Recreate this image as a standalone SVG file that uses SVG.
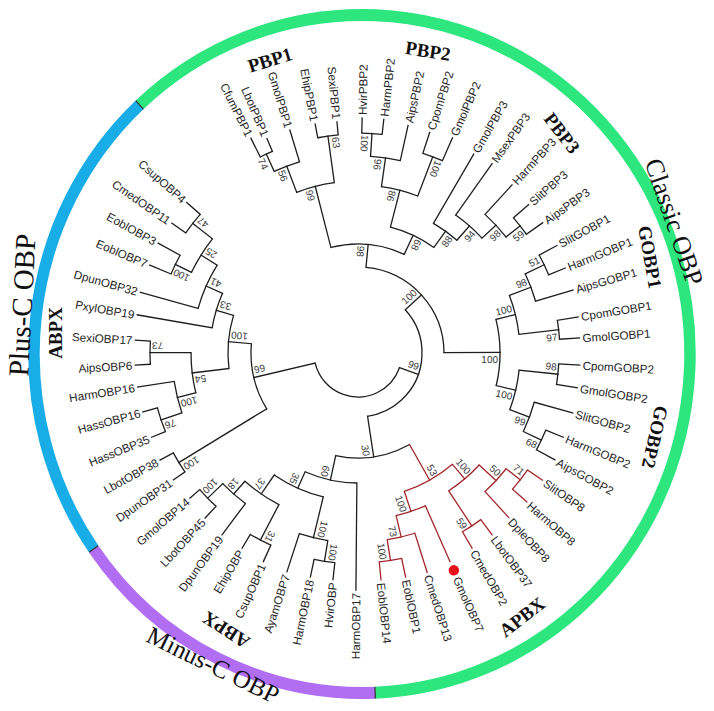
<svg xmlns="http://www.w3.org/2000/svg" width="714" height="711" viewBox="0 0 714 711">
<style>
.br{fill:none;stroke:#1e1e1e;stroke-width:1.3}
line.br{stroke-linecap:square}
.rd{stroke:#a3262a}
.lf{font-family:"Liberation Sans",Arial,sans-serif;font-size:11.7px;fill:#262626;dominant-baseline:central}
.bs{font-family:"Liberation Sans",Arial,sans-serif;font-size:10px;fill:#3a3a3a;dominant-baseline:central}
.e{text-anchor:end}
.cl{font-family:"Liberation Serif","Times New Roman",serif;font-weight:bold;font-size:19px;fill:#111;text-anchor:middle;dominant-baseline:central}
.big{font-family:"Liberation Serif","Times New Roman",serif;font-size:26px;fill:#111;text-anchor:middle;dominant-baseline:central}
.ring{fill:none;stroke-width:11.5}
.sep{stroke:#333;stroke-width:1.2}
</style>
<rect width="714" height="711" fill="#fff"/>
<g id="ring" transform="translate(362,354) scale(1,1.0335)">
<circle class="ring" r="328" stroke="#2ee67e" stroke-dasharray="1261.73 3000" transform="rotate(-132.7)"/>
<circle class="ring" r="328" stroke="#b26ef2" stroke-dasharray="327.45 3000" transform="rotate(87.7)"/>
<circle class="ring" r="328" stroke="#19ade8" stroke-dasharray="471.72 3000" transform="rotate(144.9)"/>
<line class="sep" x1="322.5" x2="333.5" transform="rotate(87.7)"/>
<line class="sep" x1="322.5" x2="333.5" transform="rotate(144.9)"/>
<line class="sep" x1="322.5" x2="333.5" transform="rotate(-132.7)"/>
</g>
<g id="tree" transform="translate(358,353)">
<g id="connectors">
<circle class="br" r="44" stroke-dasharray="113.09 3000" transform="rotate(19.5)"/>
<circle class="br" r="64" stroke-dasharray="138.33 3000" transform="rotate(-42.44)"/>
<circle class="br" r="107" stroke-dasharray="68.02 3000" transform="rotate(148.55)"/>
<circle class="br" r="86" stroke-dasharray="126.74 3000" transform="rotate(-84.66)"/>
<circle class="br" r="105" stroke-dasharray="76.33 3000" transform="rotate(60.6)"/>
<circle class="br" r="109" stroke-dasharray="75.09 3000" transform="rotate(-104.39)"/>
<circle class="br" r="142" stroke-dasharray="66.88 3000" transform="rotate(-13.71)"/>
<circle class="br" r="172" stroke-dasharray="38.95 3000" transform="rotate(-110.875)"/>
<circle class="br" r="130" stroke-dasharray="48.29 3000" transform="rotate(-75.56)"/>
<circle class="br" r="200" stroke-dasharray="27.05 3000" transform="rotate(-114.75)"/>
<circle class="br" r="219" stroke-dasharray="13.38 3000" transform="rotate(-116.5)"/>
<circle class="br" r="219" stroke-dasharray="20.64 3000" transform="rotate(-100.6)"/>
<circle class="br" r="168" stroke-dasharray="37.6 3000" transform="rotate(-81.975)"/>
<circle class="br" r="197" stroke-dasharray="30.09 3000" transform="rotate(-86.35)"/>
<circle class="br" r="220" stroke-dasharray="20.35 3000" transform="rotate(-89)"/>
<circle class="br" r="210" stroke-dasharray="20.89 3000" transform="rotate(-72)"/>
<circle class="br" r="150" stroke-dasharray="28.93 3000" transform="rotate(-59.8)"/>
<circle class="br" r="169" stroke-dasharray="35.1 3000" transform="rotate(-54.7)"/>
<circle class="br" r="188" stroke-dasharray="30.84 3000" transform="rotate(-47.5)"/>
<circle class="br" r="206" stroke-dasharray="20.85 3000" transform="rotate(-41)"/>
<circle class="br" r="162" stroke-dasharray="40.22 3000" transform="rotate(-20.825)"/>
<circle class="br" r="185" stroke-dasharray="29.22 3000" transform="rotate(-25.35)"/>
<circle class="br" r="206" stroke-dasharray="21.93 3000" transform="rotate(-28.4)"/>
<circle class="br" r="202" stroke-dasharray="19.04 3000" transform="rotate(-9.3)"/>
<circle class="br" r="162" stroke-dasharray="40.86 3000" transform="rotate(6.05)"/>
<circle class="br" r="201" stroke-dasharray="20.7 3000" transform="rotate(3.1)"/>
<circle class="br" r="183" stroke-dasharray="31.3 3000" transform="rotate(15.6)"/>
<circle class="br" r="203" stroke-dasharray="21.97 3000" transform="rotate(22.3)"/>
<circle class="br" r="130" stroke-dasharray="53.32 3000" transform="rotate(90.5)"/>
<circle class="br" r="148" stroke-dasharray="53.99 3000" transform="rotate(103.575)"/>
<circle class="br" r="190" stroke-dasharray="29.35 3000" transform="rotate(99.15)"/>
<circle class="br" r="211" stroke-dasharray="20.99 3000" transform="rotate(96.3)"/>
<circle class="br" r="171" stroke-dasharray="41.34 3000" transform="rotate(117.55)"/>
<circle class="br" r="211" stroke-dasharray="23.2 3000" transform="rotate(114.4)"/>
<circle class="br" r="188" stroke-dasharray="30.19 3000" transform="rotate(126.8)"/>
<circle class="br" r="209" stroke-dasharray="23.35 3000" transform="rotate(132.8)"/>
<circle class="br" r="210" stroke-dasharray="22.36 3000" transform="rotate(145.5)"/>
<circle class="br" r="130" stroke-dasharray="53.66 3000" transform="rotate(173.15)"/>
<circle class="br" r="167" stroke-dasharray="40.51 3000" transform="rotate(166.2)"/>
<circle class="br" r="186" stroke-dasharray="32.3 3000" transform="rotate(161.25)"/>
<circle class="br" r="208" stroke-dasharray="25.05 3000" transform="rotate(157.8)"/>
<circle class="br" r="208" stroke-dasharray="23.23 3000" transform="rotate(176.9)"/>
<circle class="br" r="148" stroke-dasharray="36.14 3000" transform="rotate(189.8)"/>
<circle class="br" r="166" stroke-dasharray="47.44 3000" transform="rotate(195.6)"/>
<circle class="br" r="185" stroke-dasharray="39.55 3000" transform="rotate(205.85)"/>
<circle class="br" r="203" stroke-dasharray="20.9 3000" transform="rotate(202.9)"/>
<circle class="br" r="210" stroke-dasharray="23.46 3000" transform="rotate(214.9)"/>
<line class="br" x1="44" x2="64" transform="rotate(19.5)"/>
<line class="br" x1="44" x2="107" transform="rotate(166.76)"/>
<line class="br" x1="64" x2="86" transform="rotate(-42.44)"/>
<line class="br" x1="64" x2="105" transform="rotate(81.4)"/>
<line class="br" x1="86" x2="109" transform="rotate(-84.66)"/>
<line class="br" x1="86" x2="142" transform="rotate(-0.22)"/>
<line class="br" x1="109" x2="172" transform="rotate(-104.39)"/>
<line class="br" x1="109" x2="130" transform="rotate(-64.92)"/>
<line class="br" x1="172" x2="200" transform="rotate(-110.875)"/>
<line class="br" x1="200" x2="219" transform="rotate(-114.75)"/>
<line class="br" x1="172" x2="219" transform="rotate(-97.9)"/>
<line class="br" x1="130" x2="168" transform="rotate(-75.56)"/>
<line class="br" x1="168" x2="197" transform="rotate(-81.975)"/>
<line class="br" x1="197" x2="220" transform="rotate(-86.35)"/>
<line class="br" x1="168" x2="210" transform="rotate(-69.15)"/>
<line class="br" x1="130" x2="150" transform="rotate(-54.275)"/>
<line class="br" x1="150" x2="169" transform="rotate(-48.75)"/>
<line class="br" x1="169" x2="188" transform="rotate(-42.8)"/>
<line class="br" x1="188" x2="206" transform="rotate(-38.1)"/>
<line class="br" x1="142" x2="162" transform="rotate(-13.71)"/>
<line class="br" x1="162" x2="185" transform="rotate(-20.825)"/>
<line class="br" x1="185" x2="206" transform="rotate(-25.35)"/>
<line class="br" x1="162" x2="202" transform="rotate(-6.6)"/>
<line class="br" x1="142" x2="162" transform="rotate(13.275)"/>
<line class="br" x1="162" x2="201" transform="rotate(6.05)"/>
<line class="br" x1="162" x2="183" transform="rotate(20.5)"/>
<line class="br" x1="183" x2="203" transform="rotate(25.4)"/>
<line class="br" x1="105" x2="130" transform="rotate(102.25)"/>
<line class="br" x1="130" x2="148" transform="rotate(114)"/>
<line class="br" x1="148" x2="190" transform="rotate(103.575)"/>
<line class="br" x1="190" x2="211" transform="rotate(99.15)"/>
<line class="br" x1="148" x2="171" transform="rotate(124.475)"/>
<line class="br" x1="171" x2="211" transform="rotate(117.55)"/>
<line class="br" x1="171" x2="188" transform="rotate(131.4)"/>
<line class="br" x1="188" x2="209" transform="rotate(136)"/>
<line class="br" x1="107" x2="210" transform="rotate(148.55)"/>
<line class="br" x1="107" x2="130" transform="rotate(184.975)"/>
<line class="br" x1="130" x2="167" transform="rotate(173.15)"/>
<line class="br" x1="167" x2="186" transform="rotate(166.2)"/>
<line class="br" x1="186" x2="208" transform="rotate(161.25)"/>
<line class="br" x1="167" x2="208" transform="rotate(180.1)"/>
<line class="br" x1="130" x2="148" transform="rotate(196.8)"/>
<line class="br" x1="148" x2="166" transform="rotate(203.79)"/>
<line class="br" x1="166" x2="185" transform="rotate(211.975)"/>
<line class="br" x1="185" x2="203" transform="rotate(205.85)"/>
<line class="br" x1="185" x2="210" transform="rotate(218.1)"/>
<line class="br" x1="219" x2="240" transform="rotate(-116.5)"/>
<line class="br" x1="219" x2="233" transform="rotate(-113)"/>
<line class="br" x1="200" x2="233" transform="rotate(-107)"/>
<line class="br" x1="219" x2="233" transform="rotate(-100.6)"/>
<line class="br" x1="219" x2="232" transform="rotate(-95.2)"/>
<line class="br" x1="220" x2="235" transform="rotate(-89)"/>
<line class="br" x1="220" x2="235" transform="rotate(-83.7)"/>
<line class="br" x1="197" x2="233" transform="rotate(-77.6)"/>
<line class="br" x1="210" x2="232" transform="rotate(-72)"/>
<line class="br" x1="210" x2="235" transform="rotate(-66.3)"/>
<line class="br" x1="150" x2="230" transform="rotate(-59.8)"/>
<line class="br" x1="169" x2="232" transform="rotate(-54.7)"/>
<line class="br" x1="188" x2="228" transform="rotate(-47.5)"/>
<line class="br" x1="206" x2="226" transform="rotate(-41)"/>
<line class="br" x1="206" x2="226" transform="rotate(-35.2)"/>
<line class="br" x1="206" x2="226" transform="rotate(-28.4)"/>
<line class="br" x1="206" x2="224" transform="rotate(-22.3)"/>
<line class="br" x1="185" x2="224" transform="rotate(-16.3)"/>
<line class="br" x1="202" x2="223" transform="rotate(-9.3)"/>
<line class="br" x1="202" x2="222" transform="rotate(-3.9)"/>
<line class="br" x1="201" x2="222" transform="rotate(3.1)"/>
<line class="br" x1="201" x2="222" transform="rotate(9)"/>
<line class="br" x1="183" x2="223" transform="rotate(15.6)"/>
<line class="br" x1="203" x2="222" transform="rotate(22.3)"/>
<line class="br" x1="203" x2="224" transform="rotate(28.5)"/>
<line class="br" x1="130" x2="237" transform="rotate(90.5)"/>
<line class="br" x1="211" x2="228" transform="rotate(96.3)"/>
<line class="br" x1="211" x2="229" transform="rotate(102)"/>
<line class="br" x1="190" x2="230" transform="rotate(108)"/>
<line class="br" x1="211" x2="229" transform="rotate(114.4)"/>
<line class="br" x1="211" x2="227" transform="rotate(120.7)"/>
<line class="br" x1="188" x2="227" transform="rotate(126.8)"/>
<line class="br" x1="209" x2="225" transform="rotate(132.8)"/>
<line class="br" x1="209" x2="222" transform="rotate(139.2)"/>
<line class="br" x1="210" x2="224" transform="rotate(145.5)"/>
<line class="br" x1="210" x2="225" transform="rotate(151.6)"/>
<line class="br" x1="208" x2="223" transform="rotate(157.8)"/>
<line class="br" x1="208" x2="223" transform="rotate(164.7)"/>
<line class="br" x1="186" x2="223" transform="rotate(171.2)"/>
<line class="br" x1="208" x2="223" transform="rotate(176.9)"/>
<line class="br" x1="208" x2="223" transform="rotate(183.3)"/>
<line class="br" x1="148" x2="224" transform="rotate(189.8)"/>
<line class="br" x1="166" x2="226" transform="rotate(195.6)"/>
<line class="br" x1="203" x2="226" transform="rotate(202.9)"/>
<line class="br" x1="203" x2="228" transform="rotate(208.8)"/>
<line class="br" x1="210" x2="227" transform="rotate(214.9)"/>
<line class="br" x1="210" x2="228" transform="rotate(221.3)"/>
<g id="apbx-branches">
<circle class="br rd" r="146" stroke-dasharray="55.55 3000" transform="rotate(49.7)"/>
<circle class="br rd" r="165" stroke-dasharray="40.03 3000" transform="rotate(42.75)"/>
<circle class="br rd" r="188" stroke-dasharray="31.17 3000" transform="rotate(38)"/>
<circle class="br rd" r="206" stroke-dasharray="24.45 3000" transform="rotate(34.6)"/>
<circle class="br rd" r="207" stroke-dasharray="22.04 3000" transform="rotate(53.6)"/>
<circle class="br rd" r="167" stroke-dasharray="30.9 3000" transform="rotate(66.2)"/>
<circle class="br rd" r="189" stroke-dasharray="28.37 3000" transform="rotate(72.5)"/>
<circle class="br rd" r="210" stroke-dasharray="22.72 3000" transform="rotate(78)"/>
<line class="br rd" x1="105" x2="146" transform="rotate(60.6)"/>
<line class="br rd" x1="146" x2="165" transform="rotate(49.7)"/>
<line class="br rd" x1="165" x2="188" transform="rotate(42.75)"/>
<line class="br rd" x1="188" x2="206" transform="rotate(38)"/>
<line class="br rd" x1="165" x2="207" transform="rotate(56.65)"/>
<line class="br rd" x1="146" x2="167" transform="rotate(71.5)"/>
<line class="br rd" x1="167" x2="189" transform="rotate(76.8)"/>
<line class="br rd" x1="189" x2="210" transform="rotate(81.1)"/>
<line class="br rd" x1="206" x2="224" transform="rotate(34.6)"/>
<line class="br rd" x1="206" x2="225" transform="rotate(41.4)"/>
<line class="br rd" x1="188" x2="223" transform="rotate(47.5)"/>
<line class="br rd" x1="207" x2="226" transform="rotate(53.6)"/>
<line class="br rd" x1="207" x2="226" transform="rotate(59.7)"/>
<line class="br rd" x1="167" x2="228" transform="rotate(66.2)"/>
<line class="br rd" x1="189" x2="230" transform="rotate(72.5)"/>
<line class="br rd" x1="210" x2="229" transform="rotate(78)"/>
<line class="br rd" x1="210" x2="228" transform="rotate(84.2)"/>
</g>
</g>
<circle id="marker-GmolOBP7" cx="237.5" r="5.2" fill="#e8101a" transform="rotate(66.2)"/>
<g id="leaves">
<g id="leaf-CfumPBP1"><text class="lf e" transform="rotate(-116.5) translate(243) rotate(180)">CfumPBP1</text></g>
<g id="leaf-LbotPBP1"><text class="lf e" transform="rotate(-113) translate(236) rotate(180)">LbotPBP1</text></g>
<g id="leaf-GmolPBP1"><text class="lf e" transform="rotate(-107) translate(236) rotate(180)">GmolPBP1</text></g>
<g id="leaf-EhipPBP1"><text class="lf e" transform="rotate(-100.6) translate(236) rotate(180)">EhipPBP1</text></g>
<g id="leaf-SexiPBP1"><text class="lf e" transform="rotate(-95.2) translate(235) rotate(180)">SexiPBP1</text></g>
<g id="leaf-HvirPBP2"><text class="lf" transform="rotate(-89) translate(238)">HvirPBP2</text></g>
<g id="leaf-HarmPBP2"><text class="lf" transform="rotate(-83.7) translate(238)">HarmPBP2</text></g>
<g id="leaf-AipsPBP2"><text class="lf" transform="rotate(-77.6) translate(236)">AipsPBP2</text></g>
<g id="leaf-CpomPBP2"><text class="lf" transform="rotate(-72) translate(235)">CpomPBP2</text></g>
<g id="leaf-GmolPBP2"><text class="lf" transform="rotate(-66.3) translate(238)">GmolPBP2</text></g>
<g id="leaf-GmolPBP3"><text class="lf" transform="rotate(-59.8) translate(233)">GmolPBP3</text></g>
<g id="leaf-MsexPBP3"><text class="lf" transform="rotate(-54.7) translate(235)">MsexPBP3</text></g>
<g id="leaf-HarmPBP3"><text class="lf" transform="rotate(-47.5) translate(231)">HarmPBP3</text></g>
<g id="leaf-SlitPBP3"><text class="lf" transform="rotate(-41) translate(229)">SlitPBP3</text></g>
<g id="leaf-AipsPBP3"><text class="lf" transform="rotate(-35.2) translate(229)">AipsPBP3</text></g>
<g id="leaf-SlitGOBP1"><text class="lf" transform="rotate(-28.4) translate(229)">SlitGOBP1</text></g>
<g id="leaf-HarmGOBP1"><text class="lf" transform="rotate(-22.3) translate(227)">HarmGOBP1</text></g>
<g id="leaf-AipsGOBP1"><text class="lf" transform="rotate(-16.3) translate(227)">AipsGOBP1</text></g>
<g id="leaf-CpomGOBP1"><text class="lf" transform="rotate(-9.3) translate(226)">CpomGOBP1</text></g>
<g id="leaf-GmolGOBP1"><text class="lf" transform="rotate(-3.9) translate(225)">GmolGOBP1</text></g>
<g id="leaf-CpomGOBP2"><text class="lf" transform="rotate(3.1) translate(225)">CpomGOBP2</text></g>
<g id="leaf-GmolGOBP2"><text class="lf" transform="rotate(9) translate(225)">GmolGOBP2</text></g>
<g id="leaf-SlitGOBP2"><text class="lf" transform="rotate(15.6) translate(226)">SlitGOBP2</text></g>
<g id="leaf-HarmGOBP2"><text class="lf" transform="rotate(22.3) translate(225)">HarmGOBP2</text></g>
<g id="leaf-AipsGOBP2"><text class="lf" transform="rotate(28.5) translate(227)">AipsGOBP2</text></g>
<g id="leaf-SlitOBP8"><text class="lf" transform="rotate(34.6) translate(227)">SlitOBP8</text></g>
<g id="leaf-HarmOBP8"><text class="lf" transform="rotate(41.4) translate(228)">HarmOBP8</text></g>
<g id="leaf-DpleOBP8"><text class="lf" transform="rotate(47.5) translate(226)">DpleOBP8</text></g>
<g id="leaf-LbotOBP37"><text class="lf" transform="rotate(53.6) translate(229)">LbotOBP37</text></g>
<g id="leaf-CmedOBP2"><text class="lf" transform="rotate(59.7) translate(229)">CmedOBP2</text></g>
<g id="leaf-GmolOBP7"><text class="lf" transform="rotate(66.2) translate(245)">GmolOBP7</text></g>
<g id="leaf-CmedOBP13"><text class="lf" transform="rotate(72.5) translate(233)">CmedOBP13</text></g>
<g id="leaf-EoblOBP1"><text class="lf" transform="rotate(78) translate(232)">EoblOBP1</text></g>
<g id="leaf-EoblOBP14"><text class="lf" transform="rotate(84.2) translate(231)">EoblOBP14</text></g>
<g id="leaf-HarmOBP17"><text class="lf e" transform="rotate(90.5) translate(240) rotate(180)">HarmOBP17</text></g>
<g id="leaf-HvirOBP"><text class="lf e" transform="rotate(96.3) translate(231) rotate(180)">HvirOBP</text></g>
<g id="leaf-HarmOBP18"><text class="lf e" transform="rotate(102) translate(232) rotate(180)">HarmOBP18</text></g>
<g id="leaf-AyamOBP7"><text class="lf e" transform="rotate(108) translate(233) rotate(180)">AyamOBP7</text></g>
<g id="leaf-CsupOBP1"><text class="lf e" transform="rotate(114.4) translate(232) rotate(180)">CsupOBP1</text></g>
<g id="leaf-EhipOBP"><text class="lf e" transform="rotate(120.7) translate(230) rotate(180)">EhipOBP</text></g>
<g id="leaf-DpunOBP19"><text class="lf e" transform="rotate(126.8) translate(230) rotate(180)">DpunOBP19</text></g>
<g id="leaf-LbotOBP45"><text class="lf e" transform="rotate(132.8) translate(228) rotate(180)">LbotOBP45</text></g>
<g id="leaf-GmolOBP14"><text class="lf e" transform="rotate(139.2) translate(225) rotate(180)">GmolOBP14</text></g>
<g id="leaf-DpunOBP31"><text class="lf e" transform="rotate(145.5) translate(227) rotate(180)">DpunOBP31</text></g>
<g id="leaf-LbotOBP38"><text class="lf e" transform="rotate(151.6) translate(228) rotate(180)">LbotOBP38</text></g>
<g id="leaf-HassOBP35"><text class="lf e" transform="rotate(157.8) translate(226) rotate(180)">HassOBP35</text></g>
<g id="leaf-HassOBP16"><text class="lf e" transform="rotate(164.7) translate(226) rotate(180)">HassOBP16</text></g>
<g id="leaf-HarmOBP16"><text class="lf e" transform="rotate(171.2) translate(226) rotate(180)">HarmOBP16</text></g>
<g id="leaf-AipsOBP6"><text class="lf e" transform="rotate(176.9) translate(226) rotate(180)">AipsOBP6</text></g>
<g id="leaf-SexiOBP17"><text class="lf e" transform="rotate(183.3) translate(226) rotate(180)">SexiOBP17</text></g>
<g id="leaf-PxylOBP19"><text class="lf e" transform="rotate(189.8) translate(227) rotate(180)">PxylOBP19</text></g>
<g id="leaf-DpunOBP32"><text class="lf e" transform="rotate(195.6) translate(229) rotate(180)">DpunOBP32</text></g>
<g id="leaf-EoblOBP7"><text class="lf e" transform="rotate(202.9) translate(229) rotate(180)">EoblOBP7</text></g>
<g id="leaf-EoblOBP3"><text class="lf e" transform="rotate(208.8) translate(231) rotate(180)">EoblOBP3</text></g>
<g id="leaf-CmedOBP11"><text class="lf e" transform="rotate(214.9) translate(230) rotate(180)">CmedOBP11</text></g>
<g id="leaf-CsupOBP4"><text class="lf e" transform="rotate(221.3) translate(231) rotate(180)">CsupOBP4</text></g>
</g>
<g id="bootstrap">
<g id="node-99a"><text class="bs e" transform="rotate(19.5) translate(62,-7)">99</text></g>
<g id="node-66"><text class="bs e" transform="rotate(166.76) translate(105,7)">66</text></g>
<g id="node-100-classic"><text class="bs e" transform="rotate(-42.44) translate(84,-7)">100</text></g>
<g id="node-30"><text class="bs e" transform="rotate(81.4) translate(103,7)">30</text></g>
<g id="node-98-pbp"><text class="bs" transform="rotate(-84.66) translate(107,-7) rotate(180)">98</text></g>
<g id="node-100-gobp"><text class="bs e" transform="rotate(-0.22) translate(140,7)">100</text></g>
<g id="node-99-pbp1"><text class="bs" transform="rotate(-104.39) translate(170,-7) rotate(180)">99</text></g>
<g id="node-68-pbp"><text class="bs" transform="rotate(-64.92) translate(128,7) rotate(180)">68</text></g>
<g id="node-56"><text class="bs" transform="rotate(-110.875) translate(198,-7) rotate(180)">56</text></g>
<g id="node-74"><text class="bs" transform="rotate(-114.75) translate(217,-7) rotate(180)">74</text></g>
<g id="node-63"><text class="bs" transform="rotate(-97.9) translate(217,7) rotate(180)">63</text></g>
<g id="node-86"><text class="bs" transform="rotate(-75.56) translate(166,-7) rotate(180)">86</text></g>
<g id="node-96"><text class="bs" transform="rotate(-81.975) translate(195,-7) rotate(180)">96</text></g>
<g id="node-100-pbp2a"><text class="bs" transform="rotate(-86.35) translate(218,-7) rotate(180)">100</text></g>
<g id="node-100-pbp2b"><text class="bs" transform="rotate(-69.15) translate(208,7) rotate(180)">100</text></g>
<g id="node-88"><text class="bs e" transform="rotate(-54.275) translate(148,7)">88</text></g>
<g id="node-94"><text class="bs e" transform="rotate(-48.75) translate(167,7)">94</text></g>
<g id="node-98-pbp3"><text class="bs e" transform="rotate(-42.8) translate(186,7)">98</text></g>
<g id="node-59-pbp3"><text class="bs e" transform="rotate(-38.1) translate(204,7)">59</text></g>
<g id="node-100-gobp1"><text class="bs e" transform="rotate(-13.71) translate(160,-7)">100</text></g>
<g id="node-98-gobp1"><text class="bs e" transform="rotate(-20.825) translate(183,-7)">98</text></g>
<g id="node-51"><text class="bs e" transform="rotate(-25.35) translate(204,-7)">51</text></g>
<g id="node-97"><text class="bs e" transform="rotate(-6.6) translate(200,7)">97</text></g>
<g id="node-100-gobp2"><text class="bs e" transform="rotate(13.275) translate(160,7)">100</text></g>
<g id="node-98-gobp2"><text class="bs e" transform="rotate(6.05) translate(199,-7)">98</text></g>
<g id="node-99-gobp2"><text class="bs e" transform="rotate(20.5) translate(181,7)">99</text></g>
<g id="node-68-gobp2"><text class="bs e" transform="rotate(25.4) translate(201,7)">68</text></g>
<g id="node-53"><text class="bs e" transform="rotate(60.6) translate(144,-7)">53</text></g>
<g id="node-100-obp8"><text class="bs e" transform="rotate(49.7) translate(163,-7)">100</text></g>
<g id="node-50"><text class="bs e" transform="rotate(42.75) translate(186,-7)">50</text></g>
<g id="node-71"><text class="bs e" transform="rotate(38) translate(204,-7)">71</text></g>
<g id="node-59-apbx"><text class="bs e" transform="rotate(56.65) translate(205,7)">59</text></g>
<g id="node-100-apbx"><text class="bs e" transform="rotate(71.5) translate(165,7)">100</text></g>
<g id="node-73-apbx"><text class="bs e" transform="rotate(76.8) translate(187,7)">73</text></g>
<g id="node-100-eobl"><text class="bs e" transform="rotate(81.1) translate(208,7)">100</text></g>
<g id="node-60"><text class="bs e" transform="rotate(102.25) translate(128,7)">60</text></g>
<g id="node-35"><text class="bs e" transform="rotate(114) translate(146,7)">35</text></g>
<g id="node-100-minus-a"><text class="bs e" transform="rotate(103.575) translate(188,-7)">100</text></g>
<g id="node-100-minus-b"><text class="bs e" transform="rotate(99.15) translate(209,-7)">100</text></g>
<g id="node-37"><text class="bs e" transform="rotate(124.475) translate(169,7)">37</text></g>
<g id="node-31"><text class="bs e" transform="rotate(117.55) translate(209,-7)">31</text></g>
<g id="node-18"><text class="bs e" transform="rotate(131.4) translate(186,7)">18</text></g>
<g id="node-100-minus-c"><text class="bs e" transform="rotate(136) translate(207,7)">100</text></g>
<g id="node-100-plus-l"><text class="bs e" transform="rotate(148.55) translate(208,-7)">100</text></g>
<g id="node-100-plus"><text class="bs e" transform="rotate(184.975) translate(128,7)">100</text></g>
<g id="node-54"><text class="bs e" transform="rotate(173.15) translate(165,-7)">54</text></g>
<g id="node-100-hass"><text class="bs e" transform="rotate(166.2) translate(184,-7)">100</text></g>
<g id="node-76"><text class="bs e" transform="rotate(161.25) translate(206,-7)">76</text></g>
<g id="node-73-plus"><text class="bs e" transform="rotate(180.1) translate(206,7)">73</text></g>
<g id="node-33"><text class="bs e" transform="rotate(196.8) translate(146,7)">33</text></g>
<g id="node-41"><text class="bs e" transform="rotate(203.79) translate(164,7)">41</text></g>
<g id="node-25"><text class="bs e" transform="rotate(211.975) translate(183,7)">25</text></g>
<g id="node-100-eobl2"><text class="bs e" transform="rotate(205.85) translate(201,-7)">100</text></g>
<g id="node-47"><text class="bs e" transform="rotate(218.1) translate(208,7)">47</text></g>
</g>
</g>
<g id="clade-labels">
<g id="clade-PBP1"><text class="cl" transform="translate(270,60) rotate(-17)">PBP1</text></g>
<g id="clade-PBP2"><text class="cl" transform="translate(428,51) rotate(9)">PBP2</text></g>
<g id="clade-PBP3"><text class="cl" transform="translate(562,133) rotate(52)">PBP3</text></g>
<g id="clade-GOBP1"><text class="cl" transform="translate(650,257) rotate(80)">GOBP1</text></g>
<g id="clade-GOBP2"><text class="cl" transform="translate(655,437) rotate(103)">GOBP2</text></g>
<g id="clade-APBX"><text class="cl" transform="translate(522,617) rotate(-38)">APBX</text></g>
<g id="clade-ABPX-plus"><text class="cl" transform="translate(55,333) rotate(-90)">ABPX</text></g>
<g id="clade-ABPX-minus"><text class="cl" transform="translate(226,630) rotate(213)">ABPX</text></g>
<g id="group-classic"><text class="big" transform="translate(674,222) rotate(71)">Classic OBP</text></g>
<g id="group-plusc"><text class="big" style="font-size:29px" transform="translate(22,305) rotate(-87)">Plus-C OBP</text></g>
<g id="group-minusc"><text class="big" style="font-size:25px" transform="translate(213,665) rotate(26)">Minus-C OBP</text></g>
</g>
</svg>
